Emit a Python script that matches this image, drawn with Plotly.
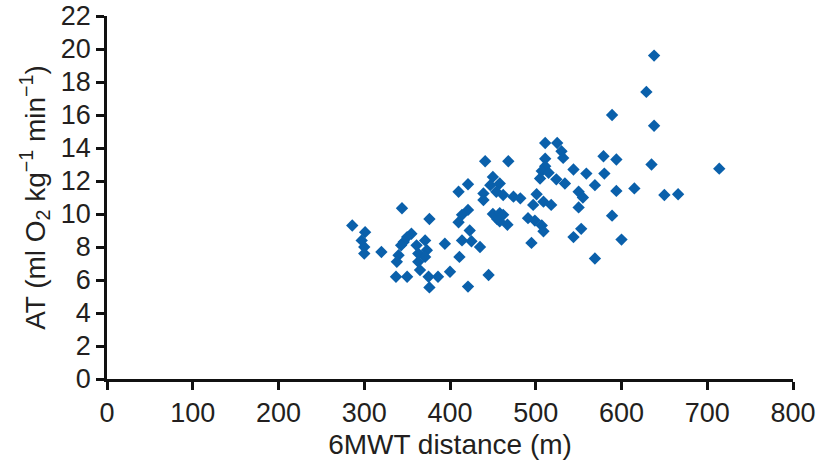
import plotly.graph_objects as go

# 6MWT distance (m)
dist_left = [286, 301, 297, 300, 300, 320, 344, 376, 355, 350, 346, 343, 340, 338,
             337, 350, 371, 361, 373, 363, 371, 363, 365, 375, 386, 376, 394, 400]
at_left = [9.3, 8.9, 8.4, 8.0, 7.6, 7.7, 10.35, 9.7, 8.8, 8.6, 8.3, 8.1, 7.5, 7.1,
           6.2, 6.2, 8.4, 8.1, 7.8, 7.6, 7.4, 7.1, 6.6, 6.2, 6.2, 5.55, 8.2, 6.5]

dist_mid = [410, 421, 441, 468, 450, 447, 458, 454, 462, 474, 482, 439, 439, 421,
            414, 410, 411, 450, 455, 458, 462, 458, 467, 491, 499, 507, 509, 495,
            423, 414, 425, 435, 445, 421]
at_mid = [11.35, 11.8, 13.2, 13.2, 12.25, 11.75, 11.85, 11.35, 11.15, 11.05, 10.95, 11.25, 10.85, 10.25,
          9.95, 9.5, 7.4, 10.0, 9.7, 10.05, 9.95, 9.55, 9.35, 9.75, 9.6, 9.3, 8.95, 8.25,
          9.0, 8.4, 8.35, 8.0, 6.3, 5.6]

dist_rmid = [511, 525, 530, 532, 511, 511, 507, 515, 505, 544, 559, 569, 524, 534,
             501, 509, 518, 497, 550, 555, 550, 544, 553, 569]
at_rmid = [14.3, 14.3, 13.8, 13.4, 13.35, 12.9, 12.6, 12.5, 12.15, 12.7, 12.45, 11.75, 12.1, 11.85,
           11.2, 10.75, 10.55, 10.55, 11.35, 11.0, 10.4, 8.6, 9.1, 7.3]

dist_right = [579, 594, 580, 594, 615, 650, 666, 589, 600, 638, 629, 589, 638, 635, 714]
at_right = [13.5, 13.3, 12.45, 11.4, 11.55, 11.15, 11.2, 9.9, 8.45, 19.6, 17.4, 16.0, 15.35, 13.0, 12.75]

distance = dist_left + dist_mid + dist_rmid + dist_right
at_values = at_left + at_mid + at_rmid + at_right

x_ticks = [0, 100, 200, 300, 400, 500, 600, 700, 800]
y_ticks = [0, 2, 4, 6, 8, 10, 12, 14, 16, 18, 20, 22]

text_color = "#231f20"
font_family = "Liberation Sans, Arial, Helvetica, sans-serif"

fig = go.Figure()
fig.add_trace(go.Scatter(
    x=distance, y=at_values, mode="markers",
    marker=dict(symbol="diamond", size=9.5, color="#0a60ab", line=dict(width=0)),
    showlegend=False,
))

axis_common = dict(
    showgrid=False, zeroline=False, showline=True, linecolor="#111111", linewidth=2.5,
    ticks="outside", ticklen=8, tickwidth=2.5, tickcolor="#111111", automargin=False,
    tickfont=dict(size=27, color=text_color, family=font_family),
)

fig.update_layout(
    width=819, height=462,
    margin=dict(l=107, r=26, t=16, b=83),
    paper_bgcolor="white", plot_bgcolor="white",
    font=dict(family=font_family, color=text_color),
    xaxis=dict(range=[0, 800], tickvals=x_ticks, ticktext=[str(v) for v in x_ticks],
               title=dict(text="6MWT distance (m)", font=dict(size=28, color=text_color), standoff=8),
               **axis_common),
    yaxis=dict(range=[0, 22], tickvals=y_ticks, ticktext=[str(v) for v in y_ticks],
               title=dict(text="AT (ml O<sub>2</sub> kg<sup>−1</sup> min<sup>−1</sup>)",
                          font=dict(size=28, color=text_color), standoff=8),
               **axis_common),
)

fig.write_html("out.html")
